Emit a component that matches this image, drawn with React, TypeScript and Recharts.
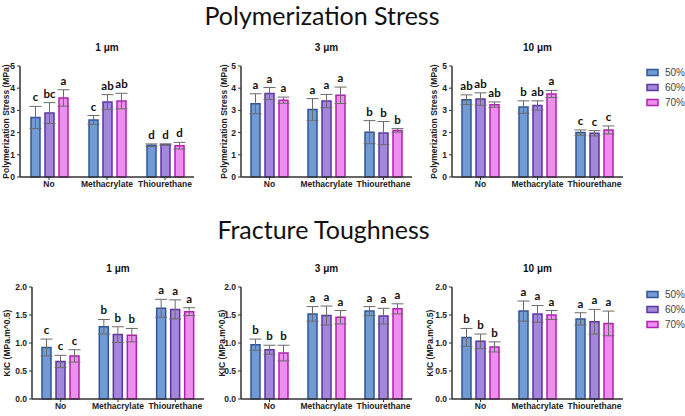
import { BarChart, Bar, XAxis, YAxis, ErrorBar, LabelList, Legend } from 'recharts';

const groups = ['No', 'Methacrylate', 'Thiourethane'];
const fillers = ['50%', '60%', '70%'];
const fills = ['#739bd3', '#a387d8', '#ee8eee'];
const strokes = ['#2f5597', '#5b35a2', '#b220b0'];

const psTicks = [0, 1, 2, 3, 4, 5];
const kicTicks = [0, 0.5, 1, 1.5, 2];

// rows = No / Methacrylate / Thiourethane, cols = 50% / 60% / 70%
const ps1Mean = [[2.68, 2.88, 3.56], [2.57, 3.38, 3.42], [1.43, 1.46, 1.41]];
const ps1Err = [[0.5, 0.47, 0.37], [0.2, 0.33, 0.35], [0.06, 0.03, 0.15]];
const ps1Sig = [['c', 'bc', 'a'], ['c', 'ab', 'ab'], ['d', 'd', 'd']];

const ps3Mean = [[3.3, 3.76, 3.46], [3.04, 3.42, 3.68], [2.02, 1.98, 2.1]];
const ps3Err = [[0.45, 0.27, 0.14], [0.49, 0.3, 0.37], [0.52, 0.52, 0.08]];
const ps3Sig = [['a', 'a', 'a'], ['a', 'a', 'a'], ['b', 'b', 'b']];

const ps10Mean = [[3.48, 3.51, 3.26], [3.15, 3.22, 3.74], [2.0, 1.97, 2.12]];
const ps10Err = [[0.22, 0.28, 0.12], [0.28, 0.21, 0.16], [0.12, 0.12, 0.18]];
const ps10Sig = [['ab', 'ab', 'ab'], ['b', 'ab', 'a'], ['c', 'c', 'c']];

const kic1Mean = [[0.92, 0.67, 0.77], [1.29, 1.15, 1.14], [1.62, 1.6, 1.56]];
const kic1Err = [[0.15, 0.11, 0.11], [0.13, 0.14, 0.12], [0.16, 0.17, 0.07]];
const kic1Sig = [['c', 'c', 'c'], ['b', 'b', 'b'], ['a', 'a', 'a']];

const kic3Mean = [[0.97, 0.88, 0.82], [1.52, 1.49, 1.46], [1.57, 1.48, 1.61]];
const kic3Err = [[0.1, 0.08, 0.14], [0.13, 0.17, 0.12], [0.08, 0.14, 0.09]];
const kic3Sig = [['b', 'b', 'b'], ['a', 'a', 'a'], ['a', 'a', 'a']];

const kic10Mean = [[1.1, 1.03, 0.93], [1.57, 1.52, 1.5], [1.43, 1.38, 1.35]];
const kic10Err = [[0.16, 0.13, 0.09], [0.18, 0.15, 0.08], [0.11, 0.22, 0.22]];
const kic10Sig = [['b', 'b', 'b'], ['a', 'a', 'a'], ['a', 'a', 'a']];

const axisFont = '"Liberation Sans", Arial, sans-serif';

function YLabel(props: any) {
  const vb = props.viewBox || {};
  const x = vb.x + vb.width - props.gap;
  const y = vb.y + vb.height / 2;
  return (
    <text x={x} y={y} transform={`rotate(-90 ${x} ${y})`} textAnchor="middle" dominantBaseline="central"
      fontSize={8.5} fontWeight="bold" fill="#222" fontFamily={axisFont}>
      {props.text}
    </text>
  );
}

function Letter(props: any) {
  const { x, y, width, height, value, index, err, mean, k } = props;
  if (x == null || !value) return null;
  const m = mean[index][k];
  const ppu = m ? height / m : 0;
  const top = y - err[index][k] * ppu;
  return (
    <text x={x + width / 2} y={top - 5} textAnchor="middle" fontSize={11.5} fontWeight="bold"
      fill="#111" fontFamily="Lato, sans-serif">
      {value}
    </text>
  );
}

function LegendBox() {
  return (
    <div style={{ fontFamily: axisFont }}>
      {fillers.map((f, k) => (
        <div key={f} style={{ height: 15, display: 'flex', alignItems: 'center' }}>
          <svg width={14} height={9}>
            <rect x={1} y={1.5} width={11} height={6} fill={fills[k]} stroke={strokes[k]} strokeWidth={1.5} />
          </svg>
          <span style={{ marginLeft: 5, fontSize: 10, color: '#444' }}>{f}</span>
        </div>
      ))}
    </div>
  );
}

type PanelProps = {
  title: string
  mean: number[][]
  err: number[][]
  sig: string[][]
  left: number
  top: number
  width: number
  height: number
  mt: number
  mr: number
  yw: number
  gap: number
  ticks: number[]
  yLabel: string
  legendTop?: number
}

function Panel(p: PanelProps) {
  const data = groups.map((g, i) => ({
    name: g,
    m0: p.mean[i][0], m1: p.mean[i][1], m2: p.mean[i][2],
    e0: p.err[i][0], e1: p.err[i][1], e2: p.err[i][2],
    s0: p.sig[i][0], s1: p.sig[i][1], s2: p.sig[i][2],
  }));
  const max = p.ticks[p.ticks.length - 1];
  const dec = max <= 2 ? 1 : 0;
  const tickStyle = { fontSize: 8.5, fontWeight: 'bold', fill: '#222', fontFamily: axisFont };
  return (
    <div style={{ position: 'absolute', left: p.left, top: p.top }}>
      <BarChart width={p.width} height={p.height} data={data} barGap={5}
        margin={{ top: p.mt, right: p.mr, bottom: 0, left: 0 }}>
        <XAxis dataKey="name" interval={0} height={20} tickSize={3} tickMargin={1}
          tick={tickStyle} axisLine={{ stroke: '#333', strokeWidth: 1.5 }} tickLine={{ stroke: '#333' }} />
        <YAxis domain={[0, max]} ticks={p.ticks} interval={0} width={p.yw} tickSize={3} tickMargin={2}
          tick={tickStyle} tickFormatter={(v: number) => v.toFixed(dec)}
          axisLine={{ stroke: '#333', strokeWidth: 1.5 }} tickLine={{ stroke: '#333' }}
          label={<YLabel text={p.yLabel} gap={p.gap} />} />
        {p.legendTop != null && (
          <Legend layout="vertical" align="center" verticalAlign="middle" content={() => <LegendBox />}
            wrapperStyle={{ left: 220, top: p.legendTop, width: 40 }} />
        )}
        {fillers.map((f, k) => (
          <Bar key={f} dataKey={`m${k}`} name={f} fill={fills[k]} stroke={strokes[k]} strokeWidth={1.5}
            barSize={9} isAnimationActive={false}>
            <ErrorBar dataKey={`e${k}`} width={6} stroke="#6b6b6b" strokeWidth={1} direction="y" />
            <LabelList dataKey={`s${k}`} content={(lp: any) => <Letter {...lp} err={p.err} mean={p.mean} k={k} />} />
          </Bar>
        ))}
      </BarChart>
    </div>
  );
}

const topRow = { top: 40, height: 157, mt: 26 };
const botRow = { top: 250, height: 169, mt: 37 };

const panels: PanelProps[] = [
  { title: '1 μm', mean: ps1Mean, err: ps1Err, sig: ps1Sig, left: 0, width: 196, mr: 2, yw: 20, gap: 14, ticks: psTicks, yLabel: 'Polymerization Stress (MPa)', ...topRow },
  { title: '3 μm', mean: ps3Mean, err: ps3Err, sig: ps3Sig, left: 215, width: 199, mr: 2, yw: 26, gap: 17, ticks: psTicks, yLabel: 'Polymerization Stress (MPa)', ...topRow },
  { title: '10 μm', mean: ps10Mean, err: ps10Err, sig: ps10Sig, left: 426, width: 259, mr: 62, yw: 26, gap: 18, ticks: psTicks, yLabel: 'Polymerization Stress (MPa)', legendTop: 25, ...topRow },
  { title: '1 μm', mean: kic1Mean, err: kic1Err, sig: kic1Sig, left: 0, width: 206, mr: 2, yw: 32, gap: 25, ticks: kicTicks, yLabel: 'KIC (MPa.m^0.5)', ...botRow },
  { title: '3 μm', mean: kic3Mean, err: kic3Err, sig: kic3Sig, left: 215, width: 199, mr: 2, yw: 26, gap: 19, ticks: kicTicks, yLabel: 'KIC (MPa.m^0.5)', ...botRow },
  { title: '10 μm', mean: kic10Mean, err: kic10Err, sig: kic10Sig, left: 426, width: 259, mr: 62, yw: 26, gap: 22, ticks: kicTicks, yLabel: 'KIC (MPa.m^0.5)', legendTop: 37, ...botRow },
];

export default function App() {
  return (
    <div style={{ position: 'absolute', left: 0, top: 0, width: 685, height: 416, background: '#fff', overflow: 'hidden' }}>
      <svg width={685} height={416} style={{ position: 'absolute', left: 0, top: 0 }}>
        <text x={322} y={25} textAnchor="middle" fontFamily="Lato, sans-serif" fontSize={25} fill="#111">
          Polymerization Stress
        </text>
        <text x={323.5} y={239} textAnchor="middle" fontFamily="Lato, sans-serif" fontSize={25} fill="#111">
          Fracture Toughness
        </text>
        {panels.map((p, i) => (
          <text key={i} x={p.left + p.yw + (p.width - p.mr - p.yw) / 2} y={p.top + p.mt - 15}
            textAnchor="middle" fontFamily={axisFont} fontSize={10} fontWeight="bold" fill="#111">
            {p.title}
          </text>
        ))}
      </svg>
      {panels.map((p, i) => <Panel key={i} {...p} />)}
    </div>
  );
}
